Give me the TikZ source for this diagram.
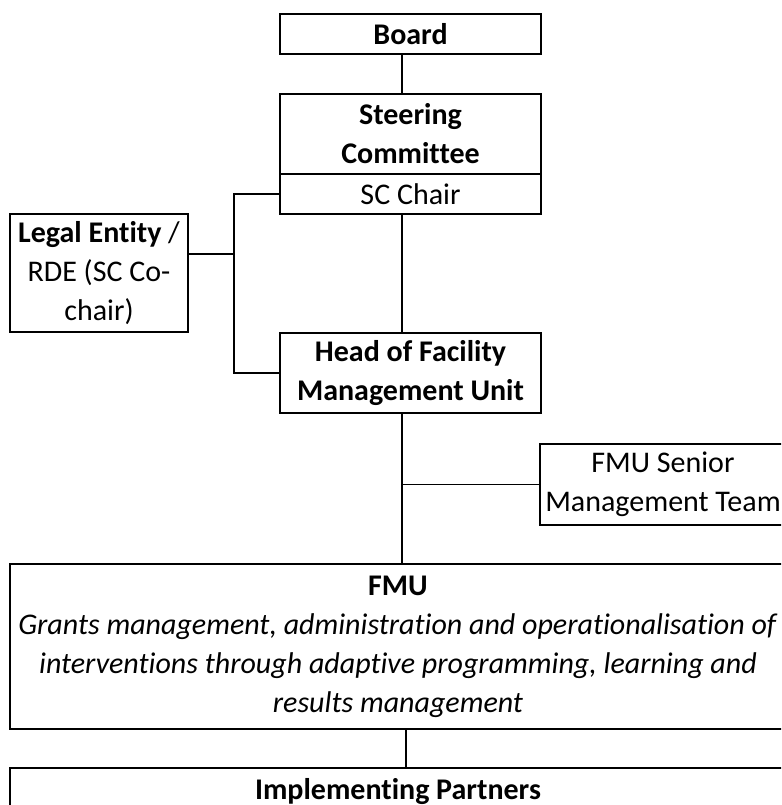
\documentclass[tikz,border=0pt]{standalone}
\usepackage{fontspec}
\setmainfont{Carlito}[Ligatures=NoCommon]
\usetikzlibrary{positioning,calc}

\begin{document}
\begin{tikzpicture}[
    x=1pt, y=-1pt,
    unit/.style={rectangle, draw, line width=2pt, align=center, inner sep=0pt, font=\fontsize{30}{39}\selectfont},
    link/.style={line width=1.8pt}
]
\clip (0,0) rectangle (781,805);
\node[unit, minimum width=261pt, minimum height=40pt] (board) at (410.5,34) {\textbf{Board}};
\node[unit, minimum width=261pt, minimum height=80pt] (sc) at (410.5,134) {\textbf{Steering}\\\textbf{Committee}};
\node[unit, minimum width=261pt, minimum height=40pt] (scchair) at (410.5,194) {SC Chair};
\node[unit, minimum width=178pt, minimum height=118pt] (legal) at (99,273) {\textbf{Legal Entity} /\\RDE (SC Co-\\chair)};
\node[unit, minimum width=261pt, minimum height=80pt] (head) at (410.5,373) {\textbf{Head of Facility}\\\textbf{Management Unit}};
\node[unit, minimum width=246pt, minimum height=81pt] (smt) at (663,484.5) {FMU Senior\\Management Team};
\node[unit, minimum width=776pt, minimum height=165pt] (fmu) at (398,646.5) {\textbf{FMU}\\\textit{Grants management, administration and operationalisation of}\\\textit{interventions through adaptive programming, learning and}\\\textit{results management}};
\node[unit, minimum width=776pt, minimum height=48pt] (ip) at (398,792) {\textbf{Implementing Partners}};
\coordinate (spine) at (402,0);
\coordinate (trunk) at (234,254);
\coordinate (drop) at (406,0);
\draw[link] (spine |- board.south) -- (spine |- sc.north);
\draw[link] (spine |- scchair.south) -- (spine |- head.north);
\draw[link] (scchair.west) -| (trunk) |- (head.west);
\draw[link] (legal.east |- trunk) -- (trunk);
\draw[link] (spine |- head.south) -- (spine |- fmu.north);
\draw[link] (spine |- smt.west) -- (smt.west);
\draw[link] (drop |- fmu.south) -- (drop |- ip.north);
\end{tikzpicture}
\end{document}
